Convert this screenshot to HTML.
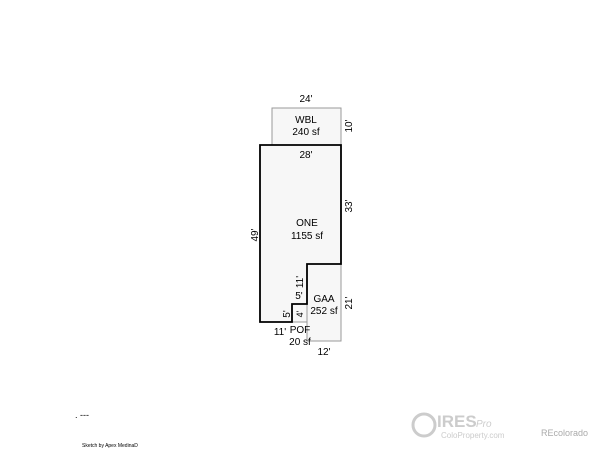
<!DOCTYPE html>
<html><head><style>body{margin:0;background:#fff}</style></head><body>
<svg width="600" height="450" xmlns="http://www.w3.org/2000/svg" font-family="Liberation Sans, sans-serif" font-size="10" fill="#000">
<rect x="0" y="0" width="600" height="450" fill="#fff"/>
<rect x="272" y="108" width="69" height="37" fill="#f7f7f7" stroke="#999" stroke-width="1"/>
<rect x="307" y="264" width="34" height="77" fill="#f7f7f7" stroke="#999" stroke-width="1"/>
<rect x="292" y="304" width="15" height="18" fill="#f7f7f7" stroke="#999" stroke-width="1"/>
<polygon points="260,145 341,145 341,264 307,264 307,304 292,304 292,322 260,322" fill="#f7f7f7" stroke="#000" stroke-width="1.8"/>
<g text-anchor="middle">
<text x="306" y="102">24'</text>
<text x="306" y="123">WBL</text>
<text x="306" y="135">240 sf</text>
<text x="306" y="158">28'</text>
<text x="307" y="226">ONE</text>
<text x="307" y="239">1155 sf</text>
<text x="324" y="302">GAA</text>
<text x="324" y="314">252 sf</text>
<text x="300" y="333">POF</text>
<text x="300" y="345">20 sf</text>
<text x="280" y="335">11'</text>
<text x="324" y="355">12'</text>
<text x="299" y="299">5'</text>
<text transform="translate(352,126) rotate(-90)">10'</text>
<text transform="translate(352,206) rotate(-90)">33'</text>
<text transform="translate(352,303) rotate(-90)">21'</text>
<text transform="translate(258,235) rotate(-90)">49'</text>
<text transform="translate(303,282) rotate(-90)">11'</text>
<text transform="translate(290,314) rotate(-90)">5'</text>
<text transform="translate(303,314) rotate(-90)" font-size="9">4'</text>
</g>
<text x="75" y="418" font-size="9">. ---</text>
<text x="82" y="447" font-size="5">Sketch by Apex MedinaD</text>
<g fill="#ccc" stroke="#ccc">
<circle cx="424" cy="425" r="11" fill="none" stroke-width="3"/>
<text x="437" y="427" font-size="17" stroke="none" font-weight="bold">IRES</text>
<text x="441" y="438" font-size="8" stroke="none">ColoProperty.com</text>
<text x="476" y="427" font-size="10" stroke="none" font-style="italic">Pro</text>
</g>
<text x="541" y="436" font-size="9" fill="#aaa">REcolorado</text>
</svg>
</body></html>
